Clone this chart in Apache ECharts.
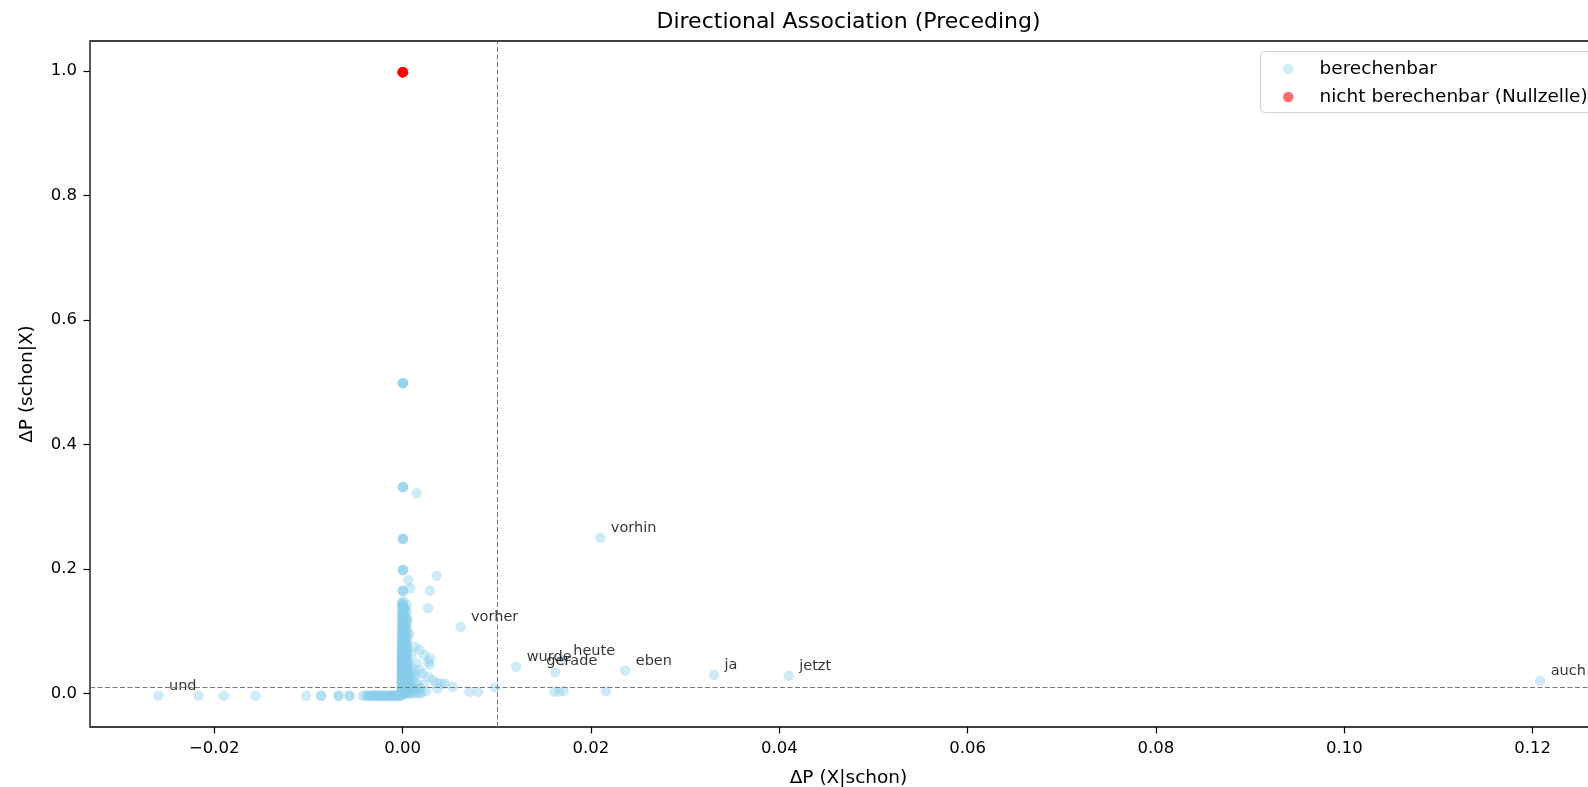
<!DOCTYPE html>
<html><head><meta charset="utf-8">
<script src="https://cdn.jsdelivr.net/npm/echarts@6/dist/echarts.min.js"></script>
<style>html,body{margin:0;padding:0;background:#fff}#c{width:1588px;height:787px}</style>
</head><body><div id="c"></div>
<script>
// ---------- data ----------
const titleText = 'Directional Association (Preceding)';
const xName = 'ΔP (X|schon)';
const yName = 'ΔP (schon|X)';
const seriesNames = ['berechenbar', 'nicht berechenbar (Nullzelle)'];
const xTicks = [-0.02, 0.00, 0.02, 0.04, 0.06, 0.08, 0.10, 0.12];
const yTicks = [0.0, 0.2, 0.4, 0.6, 0.8, 1.0];
const xRange = [-0.0332, 0.1279];
const yRange = [-0.0538, 1.048];
const refX = 0.01;
const refY = 0.01;

// annotated (berechenbar) points
const labelWords = ['vorhin', 'vorher', 'wurde', 'heute', 'gerade', 'eben', 'ja', 'jetzt', 'auch', 'und'];
const labelX = [0.0210, 0.00615, 0.01206, 0.0170, 0.01621, 0.02364, 0.03306, 0.0410, 0.1208, -0.02593];
const labelY = [0.250, 0.107, 0.043, 0.053, 0.034, 0.037, 0.030, 0.0286, 0.0206, -0.0035];

// unannotated berechenbar points: 1/n column at x≈0
const stackPoints = [
  [0.00003,0.4985],[0.00003,0.4985],[0.00003,0.4985],[0.00003,0.4985],
  [0.00003,0.3318],[0.00003,0.3318],[0.00003,0.3318],
  [0.00003,0.2485],[0.00003,0.2485],[0.00003,0.2485],
  [0.00003,0.1985],[0.00003,0.1985],[0.00003,0.1985],
  [0.00003,0.1650],[0.00003,0.1650],[0.00003,0.1650],
  [0.00003,0.1415],[0.00003,0.1415],[0.00003,0.1238],[0.00003,0.1238],
  [0.00003,0.1098],[0.00003,0.1098]
];
// scattered points right of the column
const nearPoints = [
  [0.0015,0.3216],[0.0036,0.189],[0.0029,0.165],[0.0027,0.137],[0.0006,0.182],[0.0008,0.169],
  [0.0009,0.062],[0.0013,0.075],[0.0018,0.070],[0.0023,0.062],[0.0029,0.0565],[0.0027,0.051],
  [0.0029,0.046],[0.0015,0.0485],[0.0018,0.038],[0.0021,0.032],[0.0027,0.027],[0.0032,0.022],
  [0.0036,0.017],[0.0041,0.016],[0.0045,0.016],[0.0037,0.008],[0.0053,0.011],[0.0071,0.003],
  [0.0080,0.003],[0.0098,0.010],[0.0161,0.003],[0.0166,0.003],[0.0171,0.004],[0.0216,0.004],
  [0.0007,0.012],[0.0010,0.006],[0.0012,0.018],[0.0015,0.002],[0.0018,0.009],[0.0020,0.001],
  [0.0022,0.014],[0.0025,0.004],[0.0009,0.028],[0.0011,0.040],[0.0006,0.050],
  [0.0006,0.031],[0.0008,0.022],[0.0005,0.072],[0.0007,0.096],[0.0005,0.118],
  [0.0006,0.042],[0.0009,0.036],[0.0012,0.026],[0.0007,0.018],[0.0010,0.011],[0.0013,0.008],
  [0.0006,0.004],[0.0009,0.001],[0.0014,0.031],[0.0016,0.015]
];
// dense column x≈0, y 0..0.15
const columnA = [0.1412,0.1335,0.1250,0.1180,0.1111,0.1052,0.0998,0.0950,0.0907,0.0867,0.0832,0.0798,
  0.0768,0.0740,0.0713,0.0688,0.0665,0.0643,0.0622,0.0602,0.0583,0.0565,0.0548,0.0531,0.0515,0.0499,
  0.0476,0.0454,0.0433,0.0412,0.0391,0.0370,0.0348,0.0327,0.0306,0.0284,0.0262,0.0241,0.0219,0.0198,
  0.0176,0.0155,0.0133,0.0112,0.0091,0.0069,0.0048,0.0027,0.0008];
const columnB = [0.1370,0.1290,0.1210,0.1140,0.1075,0.1010,0.0950,0.0890,0.0840,0.0790,0.0750,0.0710,
  0.0675,0.0640,0.0610,0.0580,0.0552,0.0525,0.0497,0.0470,0.0445,0.0420,0.0396,0.0372,0.0351,0.0330,
  0.0309,0.0288,0.0267,0.0246,0.0225,0.0204,0.0183,0.0162,0.0141,0.0120,0.0100,0.0080,0.0060,0.0040,0.0020];
const columnC = [0.1160,0.1020,0.0880,0.0790,0.0700,0.0630,0.0560,0.0505,0.0450,0.0405,0.0360,0.0320,
  0.0280,0.0245,0.0210,0.0180,0.0150,0.0122,0.0095,0.0072,0.0050,0.0030,0.0015];
const columnD = [0.1440,0.1300,0.1160,0.1040,0.0930,0.0850,0.0780,0.0720,0.0660,0.0610,0.0560,0.0510,
  0.0465,0.0420,0.0380,0.0340,0.0300,0.0262,0.0225,0.0188,0.0150,0.0112,0.0075,0.0038,0.0005];
const columnE = [0.1480,0.1390,0.1270,0.1195,0.1090,0.1025,0.0965,0.0915,0.0875,0.0815,0.0765,0.0725,
  0.0690,0.0655,0.0625,0.0592,0.0560,0.0536,0.0505,0.0482,0.0458,0.0430,0.0405,0.0382,0.0358,0.0336,
  0.0314,0.0292,0.0270,0.0250,0.0228,0.0208,0.0186,0.0166,0.0145,0.0124,0.0104,0.0084,0.0064,0.0044,0.0024,0.0006];
const columnF = [0.1350,0.1200,0.1080,0.0970,0.0870,0.0800,0.0735,0.0680,0.0628,0.0578,0.0532,0.0488,
  0.0446,0.0405,0.0366,0.0328,0.0292,0.0256,0.0220,0.0185,0.0152,0.0118,0.0086,0.0055,0.0025];
const columnG = [0.1425,0.1315,0.1225,0.1150,0.1065,0.0990,0.0925,0.0860,0.0805,0.0758,0.0702,0.0658,
  0.0615,0.0574,0.0540,0.0507,0.0473,0.0440,0.0410,0.0378,0.0345,0.0316,0.0285,0.0255,0.0226,0.0196,
  0.0168,0.0140,0.0110,0.0082,0.0052,0.0022];
const columnH = [0.1455,0.1365,0.1280,0.1205,0.1125,0.1060,0.1000,0.0940,0.0885,0.0830,0.0780,0.0735,
  0.0695,0.0650,0.0615,0.0578,0.0545,0.0512,0.0480,0.0450,0.0418,0.0388,0.0356,0.0325,0.0295,0.0265,
  0.0236,0.0206,0.0178,0.0148,0.0118,0.0090,0.0060,0.0032,0.0004];
const columnX = [0.0, 0.00018, 0.00035, -0.00010, 0.00008, 0.00027, 0.00045, -0.00004];
// bottom row (negative ΔP(X|schon))
const bottomRow = [
  [-0.02168,-0.0035],[-0.01899,-0.0035],[-0.01562,-0.0035],[-0.01024,-0.0035],
  [-0.00865,-0.0035],[-0.00865,-0.0035],[-0.00681,-0.0035],[-0.00681,-0.0035],[-0.00564,-0.0035],[-0.00564,-0.0035],
  [-0.00423,-0.0035],[-0.00390,-0.0030],[-0.00373,-0.0040],[-0.00345,-0.0035],[-0.0032,-0.0030],[-0.0029,-0.0035],
  [-0.00267,-0.0040],[-0.0024,-0.0035],[-0.00213,-0.0030],[-0.0019,-0.0035],[-0.0016,-0.0040],[-0.0013,-0.0035],
  [-0.00107,-0.0030],[-0.0008,-0.0035],[-0.00054,-0.0030],[-0.0003,-0.0035],[-0.0001,-0.0030],
  [-0.0030,-0.0030],[-0.0020,-0.0035],[-0.0011,-0.0040],[-0.0005,-0.0035],
  [-0.0036,-0.0035],[-0.0026,-0.0030],[-0.0017,-0.0035],[-0.0009,-0.0030],[-0.0002,-0.0035],
  [-0.0033,-0.0035],[-0.0023,-0.0035],[-0.0014,-0.0030],[-0.0006,-0.0035],[-0.0028,-0.0035],[-0.0012,-0.0035],
  [0.0003,-0.0010],[0.0008,-0.0005],[0.0013,0.0000],[0.0018,0.0005]
];
// nicht berechenbar (null cell)
const nullPoints = [[0.0,0.998],[0.00002,0.998],[0.00004,0.998],[0.0,0.998],[0.00001,0.998],[0.00003,0.998]];

// ---------- style ----------
const FONT = 'DejaVu Sans';
const BLUE = 'rgba(135,206,235,0.5)';
const RED = 'rgba(255,0,0,0.7)';
const SYM = 10.5;
const labelBase = [15.75, -4.25];
const labelNudge = { gerade: [-19.5, -1.1] };

const blueData = [];
labelWords.forEach((w, i) => {
  const n = labelNudge[w] || [0, 0];
  blueData.push({
    value: [labelX[i], labelY[i]], name: w,
    label: { show: true, formatter: w, position: [labelBase[0] + n[0], labelBase[1] + n[1]] }
  });
});
stackPoints.concat(nearPoints).concat(bottomRow).forEach(p => blueData.push({ value: p }));
[columnA, columnB, columnC, columnD, columnE, columnF, columnG, columnH].forEach((col, k) =>
  col.forEach(y => blueData.push({ value: [columnX[k], y] })));

const fmtX = v => {
  const s = Math.abs(v).toFixed(2);
  return v < -1e-9 ? '\u2212' + s : s;
};

const chart = echarts.init(document.getElementById('c'), null, { renderer: 'canvas' });
chart.setOption({
  animation: false,
  backgroundColor: '#fff',
  textStyle: { fontFamily: FONT },
  title: {
    text: titleText, left: 848.5, top: 11, textAlign: 'center', padding: 0,
    textStyle: { fontFamily: FONT, fontSize: 22, fontWeight: 'normal', color: '#000' }
  },
  grid: {
    left: 90, top: 41, right: -19, bottom: 60, show: true,
    outerBoundsMode: 'none', containLabel: false,
    borderColor: '#000', borderWidth: 1.3, backgroundColor: 'transparent'
  },
  xAxis: {
    type: 'value', min: xRange[0], max: xRange[1],
    name: xName, nameLocation: 'middle', nameGap: 42,
    nameTextStyle: { fontFamily: FONT, fontSize: 18.5, color: '#000' },
    axisLine: { show: false, onZero: false },
    axisTick: { show: true, length: 6.5, customValues: xTicks, lineStyle: { color: '#000', width: 1.2 } },
    axisLabel: { customValues: xTicks, formatter: fmtX, margin: 13, fontFamily: FONT, fontSize: 16.5, color: '#000' },
    splitLine: { show: false }
  },
  yAxis: {
    type: 'value', min: yRange[0], max: yRange[1],
    name: yName, nameLocation: 'middle', nameGap: 53, nameRotate: 90,
    nameTextStyle: { fontFamily: FONT, fontSize: 18.5, color: '#000' },
    axisLine: { show: false, onZero: false },
    axisTick: { show: true, length: 6.5, customValues: yTicks, lineStyle: { color: '#000', width: 1.2 } },
    axisLabel: { customValues: yTicks, formatter: v => v.toFixed(1), margin: 13, fontFamily: FONT, fontSize: 16.5, color: '#000' },
    splitLine: { show: false }
  },
  legend: {
    orient: 'vertical', left: 1278, top: 54, itemGap: 8,
    itemWidth: SYM, itemHeight: SYM, icon: 'circle',
    data: [
      { name: seriesNames[0], itemStyle: { color: 'rgba(135,206,235,0.5)' } },
      { name: seriesNames[1], itemStyle: { color: 'rgba(255,0,0,0.72)' } }
    ],
    textStyle: { fontFamily: FONT, fontSize: 18.5, color: '#000', lineHeight: 20, padding: [0, 0, 0, 21] }
  },
  graphic: [{
    type: 'rect', z: 1, silent: true,
    shape: { x: 1260.5, y: 51.5, width: 420, height: 61, r: 4 },
    style: { fill: 'rgba(255,255,255,0.8)', stroke: '#d0d0d0', lineWidth: 1 }
  }],
  series: [
    {
      name: seriesNames[0], type: 'scatter', symbol: 'circle', symbolSize: SYM,
      itemStyle: { color: BLUE },
      label: { show: false, color: '#000', fontFamily: FONT, fontSize: 14.5, align: 'left', verticalAlign: 'middle' },
      emphasis: { disabled: true },
      data: blueData,
      markLine: {
        silent: true, symbol: 'none', animation: false,
        label: { show: false },
        lineStyle: { color: '#7a7a7a', type: [5, 2.5], width: 1 },
        data: [{ xAxis: refX }, { yAxis: refY }]
      }
    },
    {
      name: seriesNames[1], type: 'scatter', symbol: 'circle', symbolSize: SYM,
      itemStyle: { color: RED },
      emphasis: { disabled: true },
      data: nullPoints
    }
  ]
});
</script></body></html>
